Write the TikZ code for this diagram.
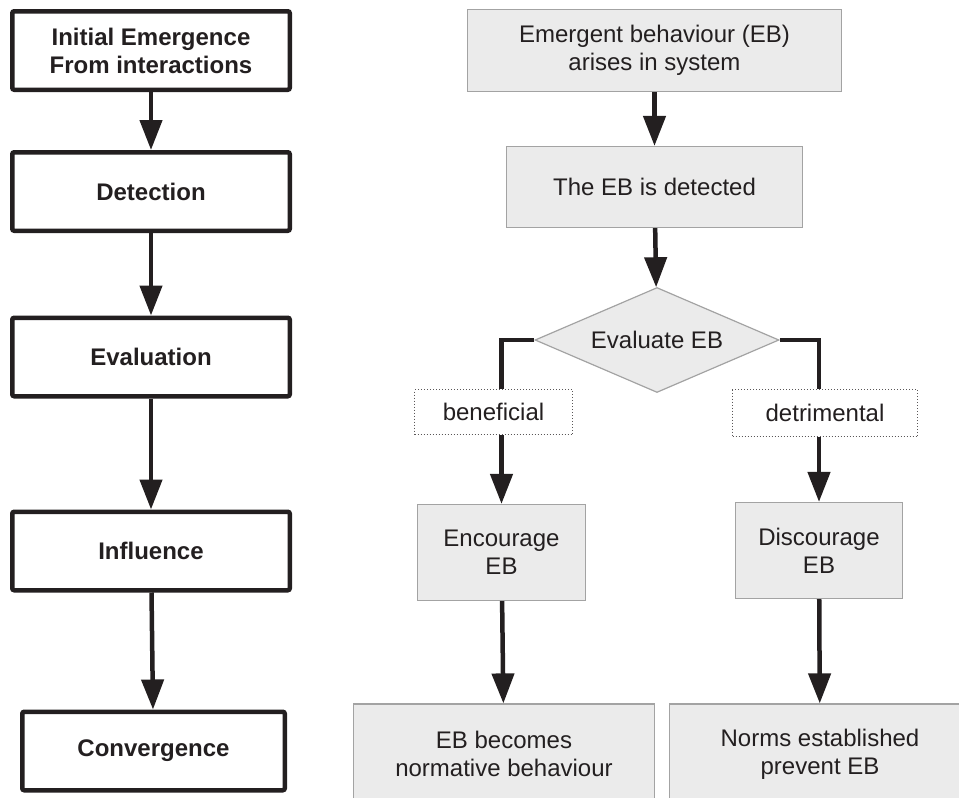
\documentclass[tikz,border=0pt]{standalone}
\usepackage{fontspec}
\setmainfont{Liberation Sans}
\usetikzlibrary{arrows.meta,shapes.geometric}
\definecolor{ink}{HTML}{231F20}
\definecolor{boxgrey}{HTML}{EBEBEB}
\definecolor{rimgrey}{HTML}{A3A3A3}
\tikzset{
    every node/.style={text=ink, align=center, inner sep=0pt,
    	font=\fontsize{24}{28}\selectfont}
}
\tikzset{
    stage/.style={draw=ink, line width=4.5pt, rounded corners=2pt, fill=white,
    	minimum width=277.5pt, minimum height=78.5pt,
    	font=\fontsize{24}{28}\selectfont\bfseries},
    eventbox/.style={draw=rimgrey, fill=boxgrey, line width=1.2pt},
    choice/.style={diamond, aspect=2.3, draw=rimgrey, fill=boxgrey, line width=1.2pt,
    	minimum width=244pt, minimum height=105pt},
    outcome/.style={draw=ink!75, dotted, line width=1pt, fill=white},
    branch/.style={draw=ink, line width=4.5pt}
}
\tikzset{
    every edge/.append style={draw=ink, line width=4.5pt,
    	-{Triangle[length=30pt,width=22pt]}}
}

\begin{document}
\begin{tikzpicture}[x=1pt, y=-1pt]
	\clip (0,0) rectangle (959,798);
	% stages of emergence
	\node (init) [stage] at (151, 50.5) {Initial Emergence\\From interactions};
	\node (detect) [stage] at (151, 191.5) {Detection};
	\node (evalu) [stage] at (151, 357) {Evaluation};
	\node (influ) [stage] at (151, 551) {Influence};
	\node (conv) [stage, minimum width=262.5pt] at (153.5, 751) {Convergence};
	
	% what happens to the EB
	\node (arise) [eventbox, minimum width=374pt, minimum height=82pt] at (654.5, 50.5) {Emergent behaviour (EB)\\arises in system};
	\node (found) [eventbox, minimum width=296pt, minimum height=81pt] at (654.5, 187) {The EB is detected};
	\node (judge) [choice] at (657, 340) {Evaluate EB};
	\node (good) [outcome, minimum width=158pt, minimum height=45pt] at (493.5, 412) {beneficial};
	\node (bad) [outcome, minimum width=185pt, minimum height=47pt] at (825, 413) {detrimental};
	\node (encour) [eventbox, minimum width=168pt, minimum height=96pt] at (501.5, 552.5) {Encourage\\EB};
	\node (discour) [eventbox, minimum width=167pt, minimum height=96pt] at (819, 550.5) {Discourage\\EB};
	\node (normal) [eventbox, minimum width=301pt, minimum height=100pt] at (504, 754) {EB becomes\\normative behaviour};
	\node (norms) [eventbox, minimum width=301pt, minimum height=100pt] at (820, 754) {Norms established\\prevent EB};
	
	\draw (init) edge (detect); \draw (detect) edge (evalu);
	\draw (evalu) edge (influ); \draw (influ) edge (conv);
	
	\draw (arise) edge (found); \draw (found) edge (judge);
	\draw [branch] (judge.west) -| (good.north -| encour.north);
	\draw [branch] (judge.east) -| (bad.north -| discour.north);
	\draw (good.south -| encour.north) edge (encour);
	\draw (bad.south -| discour.north) edge (discour);
	\draw (encour) edge (normal); \draw (discour) edge (norms);
\end{tikzpicture}
\end{document}
